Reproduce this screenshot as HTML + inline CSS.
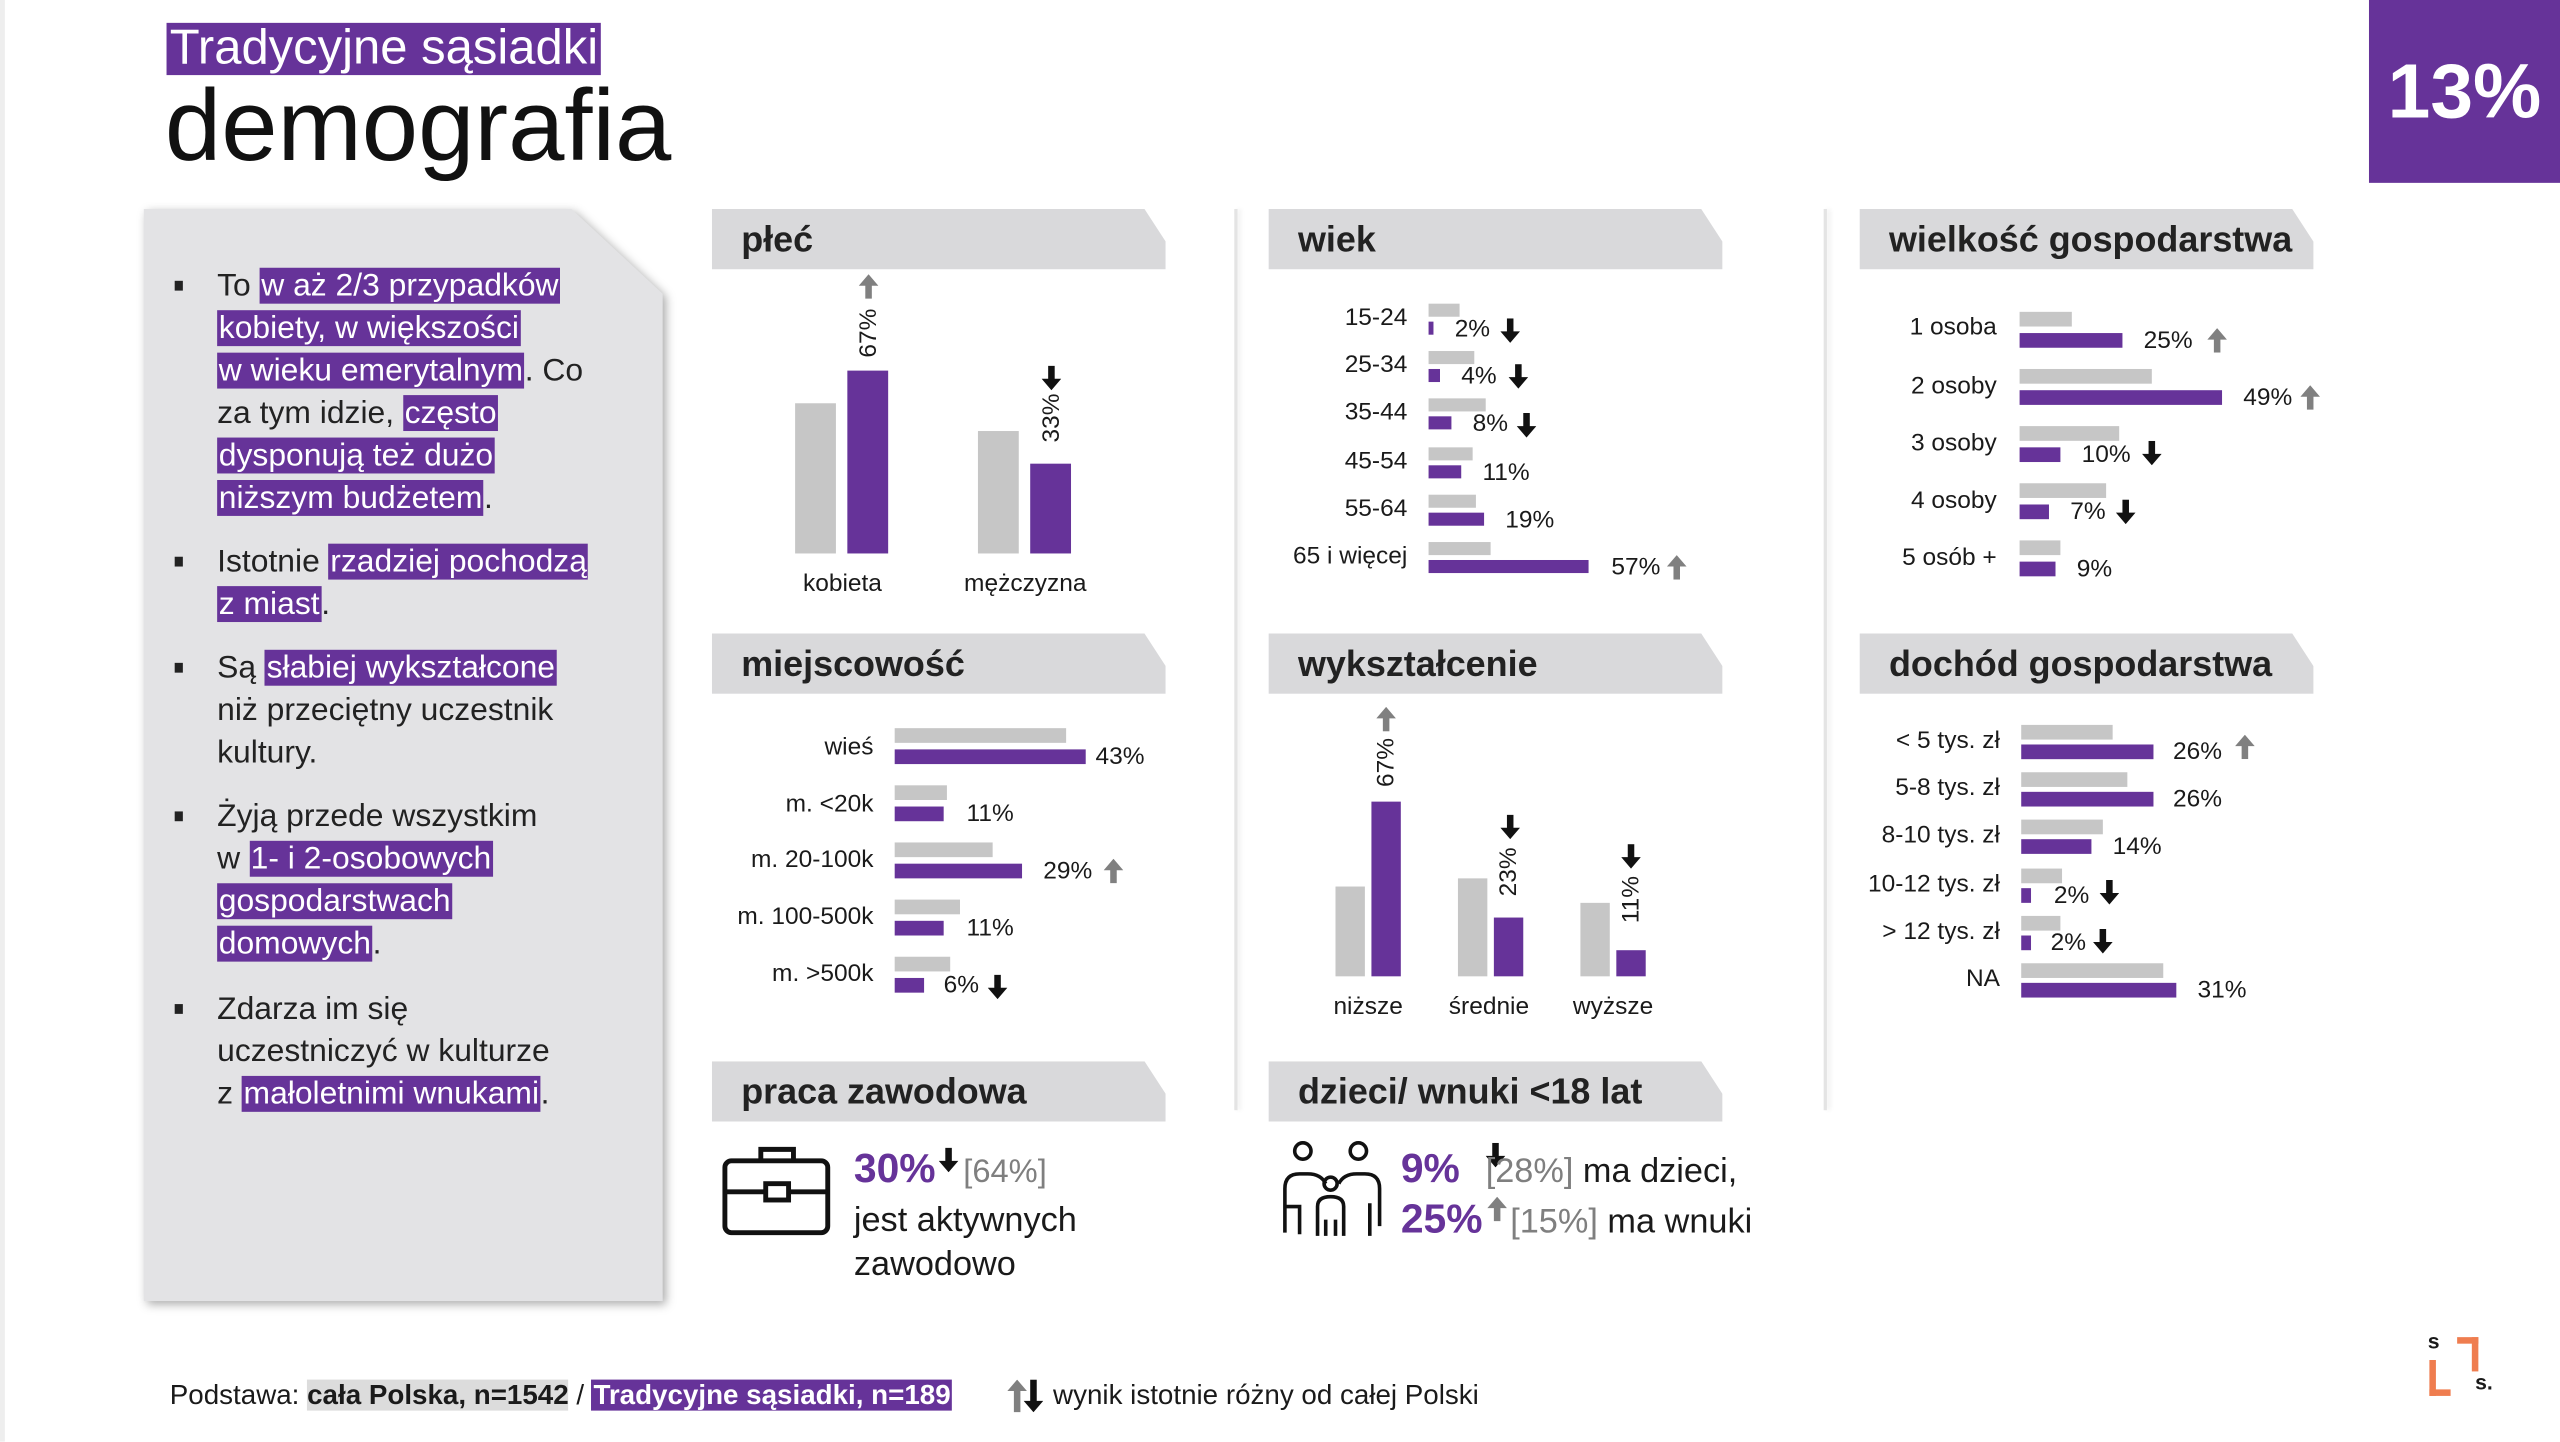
<!DOCTYPE html>
<html><head><meta charset="utf-8"><style>
html,body{margin:0;padding:0;background:#fff;width:2560px;height:1441px;overflow:hidden}
#w{position:absolute;left:0;top:0;width:1568px;height:883px;transform:scale(1.63265);transform-origin:0 0;font-family:"Liberation Sans",sans-serif;color:#1a1a1a}
.a{position:absolute;white-space:nowrap}
.hd{position:absolute;height:37px;width:278px;background:#d9d9db;clip-path:polygon(0 0,calc(100% - 13px) 0,100% 20px,100% 100%,0 100%);font-weight:bold;font-size:22px;line-height:37px;padding-left:18px;box-sizing:border-box;color:#222}
.g{position:absolute;background:#c6c6c6}
.p{position:absolute;background:#663399}
.l{position:absolute;font-size:15px;line-height:16px;white-space:nowrap}
.r{text-align:right;width:120px}
.hl{background:#663399;color:#fff;padding:0 1px}
.bl{position:absolute;left:107px;width:5px;height:6px;background:#222}
.rot{position:absolute;font-size:15px;transform:translate(-50%,-50%) rotate(-90deg);white-space:nowrap}
.vl{position:absolute;width:2px;background:#e4e4e4;box-shadow:2px 0 3px #eee}
</style></head><body><div id="w">
<div class="a" style="left:0;top:0;width:3px;height:883px;background:#eee"></div>
<div class="a hl" style="left:102px;top:14px;height:32px;padding:0 2px;font-size:30px;line-height:32px">Tradycyjne sąsiadki</div>
<div class="a" style="left:101px;top:43px;font-size:62px;line-height:70px;color:#111">demografia</div>
<div class="a" style="left:1451px;top:0;width:117px;height:112px;background:#663399;color:#fff;font-weight:bold;font-size:47px;line-height:112px;text-align:center">13%</div>

<div style="position:absolute;left:88px;top:128px;filter:drop-shadow(2px 2px 3px #aaa)"><div style="width:318px;height:669px;background:#e3e3e5;clip-path:polygon(0 0,262px 0,318px 52px,318px 100%,0 100%)"></div></div>
<div class="a" style="left:133px;top:162px;font-size:19.5px;line-height:26px;color:#222">
To <span class="hl">w aż 2/3 przypadków</span><br><span class="hl">kobiety, w większości</span><br><span class="hl">w wieku emerytalnym</span>. Co<br>za tym idzie, <span class="hl">często</span><br><span class="hl">dysponują też dużo</span><br><span class="hl">niższym budżetem</span>.</div>
<div class="a" style="left:133px;top:331px;font-size:19.5px;line-height:26px;color:#222">Istotnie <span class="hl">rzadziej pochodzą</span><br><span class="hl">z miast</span>.</div>
<div class="a" style="left:133px;top:396px;font-size:19.5px;line-height:26px;color:#222">Są <span class="hl">słabiej wykształcone</span><br>niż przeciętny uczestnik<br>kultury.</div>
<div class="a" style="left:133px;top:487px;font-size:19.5px;line-height:26px;color:#222">Żyją przede wszystkim<br>w <span class="hl">1- i 2-osobowych</span><br><span class="hl">gospodarstwach</span><br><span class="hl">domowych</span>.</div>
<div class="a" style="left:133px;top:605px;font-size:19.5px;line-height:26px;color:#222">Zdarza im się<br>uczestniczyć w kulturze<br>z <span class="hl">małoletnimi wnukami</span>.</div>
<div class="bl" style="top:172px"></div><div class="bl" style="top:341px"></div><div class="bl" style="top:406px"></div><div class="bl" style="top:497px"></div><div class="bl" style="top:615px"></div>

<div class="vl" style="left:756px;top:128px;height:552px"></div>
<div class="vl" style="left:1117px;top:128px;height:552px"></div>

<div class="hd" style="left:436px;top:128px">płeć</div>
<div class="hd" style="left:777px;top:128px">wiek</div>
<div class="hd" style="left:1139px;top:128px">wielkość gospodarstwa</div>
<div class="hd" style="left:436px;top:388px">miejscowość</div>
<div class="hd" style="left:777px;top:388px">wykształcenie</div>
<div class="hd" style="left:1139px;top:388px">dochód gospodarstwa</div>
<div class="hd" style="left:436px;top:650px">praca zawodowa</div>
<div class="hd" style="left:777px;top:650px">dzieci/ wnuki &lt;18 lat</div>

<!-- płeć -->
<div class="g" style="left:487px;top:247px;width:25px;height:92px"></div>
<div class="p" style="left:519px;top:227px;width:25px;height:112px"></div>
<div class="g" style="left:599px;top:264px;width:25px;height:75px"></div>
<div class="p" style="left:631px;top:284px;width:25px;height:55px"></div>
<div class="rot" style="left:532px;top:204px">67%</div>
<div class="rot" style="left:644px;top:256px">33%</div>
<svg class="a" style="left:526px;top:168px" width="12" height="15"><path d="M6 0L12 7L8 7L8 15L4 15L4 7L0 7Z" fill="#808080"/></svg>
<svg class="a" style="left:638px;top:224px" width="12" height="15"><path d="M6 15L12 8L8 8L8 0L4 0L4 8L0 8Z" fill="#111"/></svg>
<div class="l" style="left:476px;top:350px;width:80px;text-align:center">kobieta</div>
<div class="l" style="left:578px;top:350px;width:100px;text-align:center">mężczyzna</div>

<!-- wiek -->
<div class="l r" style="left:742px;top:187px">15-24</div><div class="g" style="left:875px;top:186px;width:19px;height:8px"></div><div class="p" style="left:875px;top:197px;width:3px;height:8px"></div><div class="l" style="left:891px;top:194px">2%</div>
<div class="l r" style="left:742px;top:216px">25-34</div><div class="g" style="left:875px;top:215px;width:28px;height:8px"></div><div class="p" style="left:875px;top:226px;width:7px;height:8px"></div><div class="l" style="left:895px;top:223px">4%</div>
<div class="l r" style="left:742px;top:245px">35-44</div><div class="g" style="left:875px;top:244px;width:35px;height:8px"></div><div class="p" style="left:875px;top:255px;width:14px;height:8px"></div><div class="l" style="left:902px;top:252px">8%</div>
<div class="l r" style="left:742px;top:275px">45-54</div><div class="g" style="left:875px;top:274px;width:27px;height:8px"></div><div class="p" style="left:875px;top:285px;width:20px;height:8px"></div><div class="l" style="left:908px;top:282px">11%</div>
<div class="l r" style="left:742px;top:304px">55-64</div><div class="g" style="left:875px;top:303px;width:29px;height:8px"></div><div class="p" style="left:875px;top:314px;width:34px;height:8px"></div><div class="l" style="left:922px;top:311px">19%</div>
<div class="l r" style="left:742px;top:333px">65 i więcej</div><div class="g" style="left:875px;top:332px;width:38px;height:8px"></div><div class="p" style="left:875px;top:343px;width:98px;height:8px"></div><div class="l" style="left:987px;top:340px">57%</div>
<svg class="a" style="left:919px;top:195px" width="12" height="15"><path d="M6 15L12 8L8 8L8 0L4 0L4 8L0 8Z" fill="#111"/></svg>
<svg class="a" style="left:924px;top:223px" width="12" height="15"><path d="M6 15L12 8L8 8L8 0L4 0L4 8L0 8Z" fill="#111"/></svg>
<svg class="a" style="left:929px;top:253px" width="12" height="15"><path d="M6 15L12 8L8 8L8 0L4 0L4 8L0 8Z" fill="#111"/></svg>
<svg class="a" style="left:1021px;top:340px" width="12" height="15"><path d="M6 0L12 7L8 7L8 15L4 15L4 7L0 7Z" fill="#808080"/></svg>

<!-- wielkość -->
<div class="l r" style="left:1103px;top:193px">1 osoba</div><div class="g" style="left:1237px;top:191px;width:32px;height:9px"></div><div class="p" style="left:1237px;top:204px;width:63px;height:9px"></div><div class="l" style="left:1313px;top:201px">25%</div>
<div class="l r" style="left:1103px;top:229px">2 osoby</div><div class="g" style="left:1237px;top:226px;width:81px;height:9px"></div><div class="p" style="left:1237px;top:239px;width:124px;height:9px"></div><div class="l" style="left:1374px;top:236px">49%</div>
<div class="l r" style="left:1103px;top:264px">3 osoby</div><div class="g" style="left:1237px;top:261px;width:61px;height:9px"></div><div class="p" style="left:1237px;top:274px;width:25px;height:9px"></div><div class="l" style="left:1275px;top:271px">10%</div>
<div class="l r" style="left:1103px;top:299px">4 osoby</div><div class="g" style="left:1237px;top:296px;width:53px;height:9px"></div><div class="p" style="left:1237px;top:309px;width:18px;height:9px"></div><div class="l" style="left:1268px;top:306px">7%</div>
<div class="l r" style="left:1103px;top:334px">5 osób +</div><div class="g" style="left:1237px;top:331px;width:25px;height:9px"></div><div class="p" style="left:1237px;top:344px;width:22px;height:9px"></div><div class="l" style="left:1272px;top:341px">9%</div>
<svg class="a" style="left:1352px;top:201px" width="12" height="15"><path d="M6 0L12 7L8 7L8 15L4 15L4 7L0 7Z" fill="#808080"/></svg>
<svg class="a" style="left:1409px;top:236px" width="12" height="15"><path d="M6 0L12 7L8 7L8 15L4 15L4 7L0 7Z" fill="#808080"/></svg>
<svg class="a" style="left:1312px;top:270px" width="12" height="15"><path d="M6 15L12 8L8 8L8 0L4 0L4 8L0 8Z" fill="#111"/></svg>
<svg class="a" style="left:1296px;top:306px" width="12" height="15"><path d="M6 15L12 8L8 8L8 0L4 0L4 8L0 8Z" fill="#111"/></svg>

<!-- miejscowość -->
<div class="l r" style="left:415px;top:450px">wieś</div><div class="g" style="left:548px;top:446px;width:105px;height:9px"></div><div class="p" style="left:548px;top:459px;width:117px;height:9px"></div><div class="l" style="left:671px;top:456px">43%</div>
<div class="l r" style="left:415px;top:485px">m. &lt;20k</div><div class="g" style="left:548px;top:481px;width:32px;height:9px"></div><div class="p" style="left:548px;top:494px;width:30px;height:9px"></div><div class="l" style="left:592px;top:491px">11%</div>
<div class="l r" style="left:415px;top:519px">m. 20-100k</div><div class="g" style="left:548px;top:516px;width:60px;height:9px"></div><div class="p" style="left:548px;top:529px;width:78px;height:9px"></div><div class="l" style="left:639px;top:526px">29%</div>
<div class="l r" style="left:415px;top:554px">m. 100-500k</div><div class="g" style="left:548px;top:551px;width:40px;height:9px"></div><div class="p" style="left:548px;top:564px;width:30px;height:9px"></div><div class="l" style="left:592px;top:561px">11%</div>
<div class="l r" style="left:415px;top:589px">m. &gt;500k</div><div class="g" style="left:548px;top:586px;width:34px;height:9px"></div><div class="p" style="left:548px;top:599px;width:18px;height:9px"></div><div class="l" style="left:578px;top:596px">6%</div>
<svg class="a" style="left:676px;top:526px" width="12" height="15"><path d="M6 0L12 7L8 7L8 15L4 15L4 7L0 7Z" fill="#808080"/></svg>
<svg class="a" style="left:605px;top:597px" width="12" height="15"><path d="M6 15L12 8L8 8L8 0L4 0L4 8L0 8Z" fill="#111"/></svg>

<!-- dochód -->
<div class="l r" style="left:1105px;top:446px">&lt; 5 tys. zł</div><div class="g" style="left:1238px;top:444px;width:56px;height:9px"></div><div class="p" style="left:1238px;top:456px;width:81px;height:9px"></div><div class="l" style="left:1331px;top:453px">26%</div>
<div class="l r" style="left:1105px;top:475px">5-8 tys. zł</div><div class="g" style="left:1238px;top:473px;width:65px;height:9px"></div><div class="p" style="left:1238px;top:485px;width:81px;height:9px"></div><div class="l" style="left:1331px;top:482px">26%</div>
<div class="l r" style="left:1105px;top:504px">8-10 tys. zł</div><div class="g" style="left:1238px;top:502px;width:50px;height:9px"></div><div class="p" style="left:1238px;top:514px;width:43px;height:9px"></div><div class="l" style="left:1294px;top:511px">14%</div>
<div class="l r" style="left:1105px;top:534px">10-12 tys. zł</div><div class="g" style="left:1238px;top:532px;width:25px;height:9px"></div><div class="p" style="left:1238px;top:544px;width:6px;height:9px"></div><div class="l" style="left:1258px;top:541px">2%</div>
<div class="l r" style="left:1105px;top:563px">&gt; 12 tys. zł</div><div class="g" style="left:1238px;top:561px;width:24px;height:9px"></div><div class="p" style="left:1238px;top:573px;width:6px;height:9px"></div><div class="l" style="left:1256px;top:570px">2%</div>
<div class="l r" style="left:1105px;top:592px">NA</div><div class="g" style="left:1238px;top:590px;width:87px;height:9px"></div><div class="p" style="left:1238px;top:602px;width:95px;height:9px"></div><div class="l" style="left:1346px;top:599px">31%</div>
<svg class="a" style="left:1369px;top:450px" width="12" height="15"><path d="M6 0L12 7L8 7L8 15L4 15L4 7L0 7Z" fill="#808080"/></svg>
<svg class="a" style="left:1286px;top:539px" width="12" height="15"><path d="M6 15L12 8L8 8L8 0L4 0L4 8L0 8Z" fill="#111"/></svg>
<svg class="a" style="left:1282px;top:569px" width="12" height="15"><path d="M6 15L12 8L8 8L8 0L4 0L4 8L0 8Z" fill="#111"/></svg>

<!-- wykształcenie -->
<div class="g" style="left:818px;top:543px;width:18px;height:55px"></div>
<div class="p" style="left:840px;top:491px;width:18px;height:107px"></div>
<div class="g" style="left:893px;top:538px;width:18px;height:60px"></div>
<div class="p" style="left:915px;top:562px;width:18px;height:36px"></div>
<div class="g" style="left:968px;top:553px;width:18px;height:45px"></div>
<div class="p" style="left:990px;top:582px;width:18px;height:16px"></div>
<div class="rot" style="left:849px;top:467px">67%</div>
<div class="rot" style="left:924px;top:534px">23%</div>
<div class="rot" style="left:999px;top:551px">11%</div>
<svg class="a" style="left:843px;top:433px" width="12" height="15"><path d="M6 0L12 7L8 7L8 15L4 15L4 7L0 7Z" fill="#808080"/></svg>
<svg class="a" style="left:919px;top:499px" width="12" height="15"><path d="M6 15L12 8L8 8L8 0L4 0L4 8L0 8Z" fill="#111"/></svg>
<svg class="a" style="left:993px;top:517px" width="12" height="15"><path d="M6 15L12 8L8 8L8 0L4 0L4 8L0 8Z" fill="#111"/></svg>
<div class="l" style="left:808px;top:609px;width:60px;text-align:center">niższe</div>
<div class="l" style="left:882px;top:609px;width:60px;text-align:center">średnie</div>
<div class="l" style="left:958px;top:609px;width:60px;text-align:center">wyższe</div>

<!-- praca -->
<svg class="a" style="left:442px;top:700px" width="68" height="58" viewBox="0 0 68 58"><rect x="2" y="11" width="63" height="44" rx="4" fill="none" stroke="#111" stroke-width="3"/><path d="M24 11V4h20v7" fill="none" stroke="#111" stroke-width="3"/><path d="M2 30h25M41 30h24" stroke="#111" stroke-width="3"/><rect x="27" y="25" width="14" height="10" fill="none" stroke="#111" stroke-width="3"/></svg>
<div class="a" style="left:523px;top:702px;font-size:25px;font-weight:bold;color:#663399">30%</div>
<svg class="a" style="left:575px;top:703px" width="12" height="15"><path d="M6 15L12 8L8 8L8 0L4 0L4 8L0 8Z" fill="#111"/></svg>
<div class="a" style="left:590px;top:707px;font-size:20px;color:#7f7f7f">[64%]</div>
<div class="a" style="left:523px;top:734px;font-size:21px;line-height:27px">jest aktywnych<br>zawodowo</div>

<!-- dzieci -->
<svg class="a" style="left:781px;top:695px" width="70" height="66" viewBox="0 0 70 66" fill="none" stroke="#111" stroke-width="2.2"><circle cx="17" cy="10" r="5"/><circle cx="51" cy="10" r="5"/><circle cx="34" cy="30" r="4"/><path d="M6 60V33q0-9 9-9h5q8 0 11 6M5 44h10v17M64 56V33q0-9-9-9h-5q-8 0-11 6M58 42v20M26 62V44q0-6 8-6t8 6v18M31 52v10M37 52v10"/></svg>
<div class="a" style="left:858px;top:702px;font-size:25px;font-weight:bold;color:#663399">9%</div>
<svg class="a" style="left:910px;top:700px" width="12" height="15"><path d="M6 15L12 8L8 8L8 0L4 0L4 8L0 8Z" fill="#111"/></svg>
<div class="a" style="left:910px;top:706px;font-size:21px"><span style="color:#7f7f7f">[28%]</span> ma dzieci,</div>
<div class="a" style="left:858px;top:733px;font-size:25px;font-weight:bold;color:#663399">25%</div>
<svg class="a" style="left:911px;top:733px" width="12" height="15"><path d="M6 0L12 7L8 7L8 15L4 15L4 7L0 7Z" fill="#808080"/></svg>
<div class="a" style="left:925px;top:737px;font-size:21px"><span style="color:#7f7f7f">[15%]</span> ma wnuki</div>

<!-- footer -->
<div class="a" style="left:104px;top:845px;font-size:17px;line-height:20px">Podstawa: <b style="background:#dcdcdc">cała Polska, n=1542</b> / <b class="hl">Tradycyjne sąsiadki, n=189</b></div>
<svg class="a" style="left:617px;top:845px" width="22" height="20"><path d="M6 0L12 7L8 7L8 20L4 20L4 7L0 7Z" fill="#808080"/><path d="M16 20L22 13L18 13L18 0L14 0L14 13L10 13Z" fill="#111"/></svg>
<div class="a" style="left:645px;top:845px;font-size:17px;line-height:20px">wynik istotnie różny od całej Polski</div>

<!-- logo -->
<div class="a" style="left:1487px;top:814px;font-size:13px;font-weight:bold">s</div>
<div class="a" style="left:1516px;top:839px;font-size:13px;font-weight:bold">s.</div>
<div class="a" style="left:1505px;top:819px;width:9px;height:17px;border-top:4px solid #ef7d4f;border-right:4px solid #ef7d4f"></div>
<div class="a" style="left:1488px;top:833px;width:9px;height:18px;border-bottom:4px solid #ef7d4f;border-left:4px solid #ef7d4f"></div>
</div></body></html>
